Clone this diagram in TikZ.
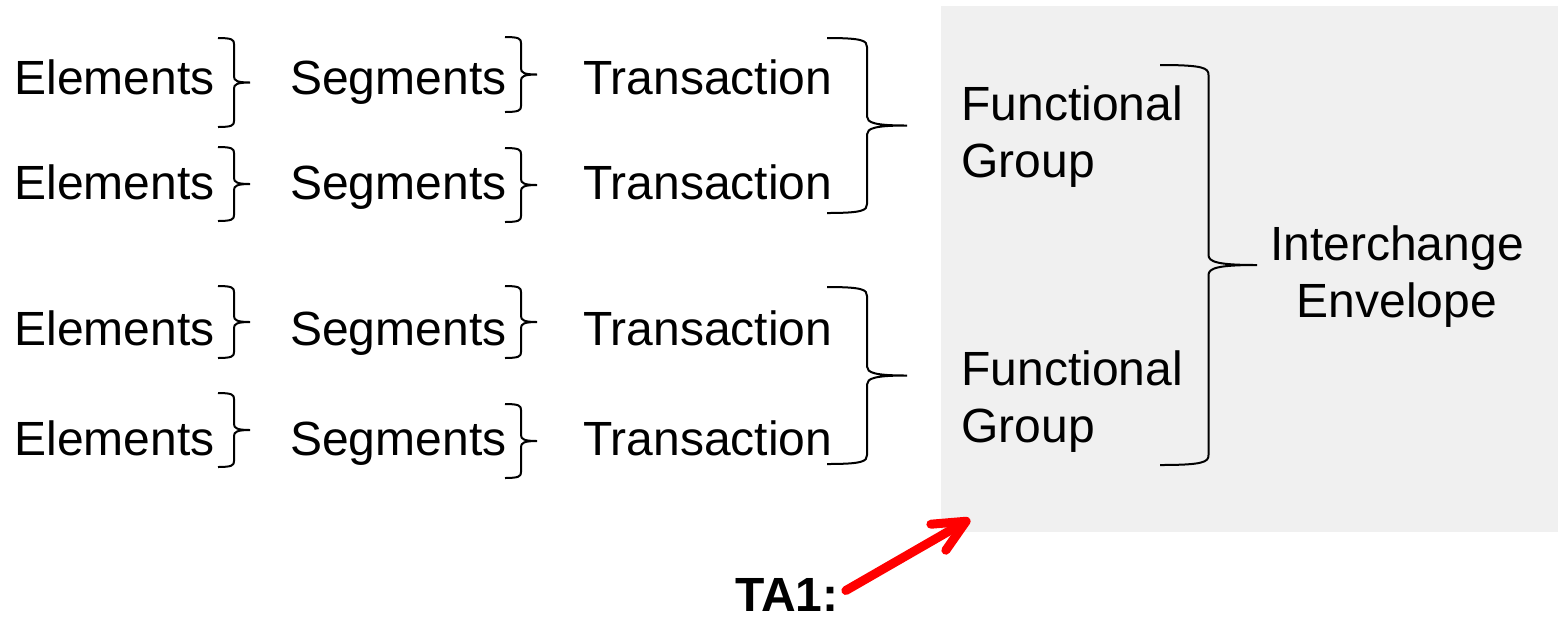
\documentclass[tikz,border=0pt]{standalone}
\usepackage{fontspec}
\setmainfont{Liberation Sans}
\usetikzlibrary{positioning,arrows.meta}

\begin{document}
\begin{tikzpicture}[x=0.5pt, y=-0.5pt, node distance=37.5pt,
TextStyle/.style={inner sep=0pt, anchor=base west,
                font=\fontsize{24}{28.5}\selectfont},
BraceStyle/.style={line width=1pt},
ArrowStyle/.style={red, line width=4.5pt, line cap=round,
                -{Straight Barb[length=16pt, width=15pt, round]}},]
\useasboundingbox (0,0) rectangle (1558,618);
\fill [gray!12] (941,6) rectangle (1558,532);

% rows
\node [TextStyle] (e1) at (14,94) {Elements};
\node [TextStyle, base right=of e1] (s1) {Segments};
\node [TextStyle, base right=38pt of s1] (t1) {Transaction};
\node [TextStyle] (e2) at (14,199) {Elements};
\node [TextStyle, base right=of e2] (s2) {Segments};
\node [TextStyle, base right=38pt of s2] (t2) {Transaction};
\node [TextStyle] (e3) at (14,345) {Elements};
\node [TextStyle, base right=of e3] (s3) {Segments};
\node [TextStyle, base right=38pt of s3] (t3) {Transaction};
\node [TextStyle] (e4) at (14,455) {Elements};
\node [TextStyle, base right=of e4] (s4) {Segments};
\node [TextStyle, base right=38pt of s4] (t4) {Transaction};

\node [TextStyle, align=left] (fg1) at (961,177) {Functional\\Group};
\node [TextStyle, align=left] (fg2) at (961,442) {Functional\\Group};
\node [TextStyle, align=center, anchor=base] (ie) at (1397,317)
      {Interchange\\Envelope};
\node [TextStyle, font=\fontsize{24}{28.5}\selectfont\bfseries] (ta)
      at (735,611) {TA1:};

% braces: left x / top / bottom / width / corner
\foreach \bl/\bt/\bb/\ba/\br in {218/38/127/32/6, 218/147/221/32/6,
    218/286/358/32/6, 218/393/467/32/6, 505/37/112/32/6,
    505/148/222/32/6, 505/286/358/32/6, 505/404/478/32/6,
    827/38/213/80/9, 827/287/464/80/9, 1160/65/465/97/10}{
  \pgfmathsetmacro\bvx{\bl+0.5*\ba}
  \pgfmathsetmacro\bmy{(\bt+\bb)/2}
  \draw [BraceStyle] (\bl,\bt)
    .. controls (\bl+0.45*\ba,\bt) and (\bvx,\bt+0.3*\br) .. (\bvx,\bt+\br)
    -- (\bvx,\bmy-\br)
    .. controls (\bvx,\bmy-0.3*\br) and (\bl+0.6*\ba,\bmy) .. (\bl+\ba,\bmy)
    .. controls (\bl+0.6*\ba,\bmy) and (\bvx,\bmy+0.3*\br) .. (\bvx,\bmy+\br)
    -- (\bvx,\bb-\br)
    .. controls (\bvx,\bb-0.3*\br) and (\bl+0.45*\ba,\bb) .. (\bl,\bb);
}

\coordinate (corner) at (970,519);
\draw [ArrowStyle, shorten <=4pt] (ta.east) -- (corner);
\end{tikzpicture}
\end{document}
